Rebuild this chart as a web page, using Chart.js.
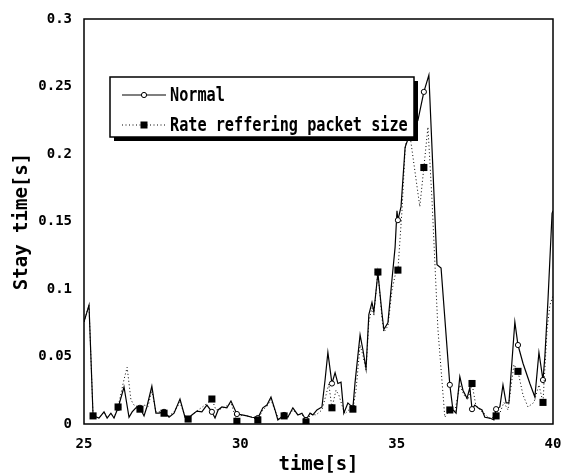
<!DOCTYPE html>
<html>
<head>
<meta charset="utf-8">
<script src="https://cdn.jsdelivr.net/npm/chart.js@4/dist/chart.umd.min.js"></script>
<style>
  html, body { margin: 0; padding: 0; background: #fff; }
  #wrap { width: 561px; height: 475px; }
</style>
</head>
<body>
<div id="wrap"><canvas id="c" width="561" height="475"></canvas></div>
<script>
// Stay time of packets over the observed interval, [time (s), stay time (s)]
const normalPoints = [
  [25.00,0.0756],[25.16,0.088],[25.29,0.006],[25.48,0.0044],[25.64,0.009],[25.74,0.0044],
  [25.86,0.008],[25.96,0.0044],[26.09,0.012],[26.28,0.0274],[26.44,0.005],[26.54,0.009],
  [26.66,0.012],[26.79,0.012],[26.92,0.006],[27.01,0.0126],[27.17,0.028],[27.30,0.008],
  [27.40,0.008],[27.56,0.009],[27.72,0.005],[27.88,0.008],[28.07,0.0185],[28.23,0.005],
  [28.33,0.0037],[28.45,0.0067],[28.61,0.0096],[28.77,0.009],[28.93,0.014],[29.09,0.009],
  [29.19,0.0044],[29.29,0.0104],[29.41,0.0126],[29.57,0.012],[29.70,0.017],[29.89,0.0074],
  [30.05,0.0067],[30.21,0.006],[30.37,0.005],[30.56,0.0044],[30.72,0.012],[30.85,0.014],
  [30.98,0.020],[31.11,0.0104],[31.20,0.003],[31.40,0.0067],[31.52,0.005],[31.68,0.012],
  [31.84,0.0067],[31.97,0.008],[32.10,0.003],[32.23,0.008],[32.32,0.0067],[32.45,0.0104],
  [32.61,0.0126],[32.71,0.0326],[32.80,0.053],[32.93,0.030],[33.03,0.038],[33.12,0.030],
  [33.22,0.031],[33.31,0.008],[33.44,0.0156],[33.60,0.012],[33.67,0.031],[33.83,0.066],
  [33.92,0.055],[34.02,0.041],[34.11,0.081],[34.21,0.090],[34.27,0.083],[34.40,0.112],
  [34.53,0.082],[34.59,0.070],[34.72,0.075],[34.85,0.107],[34.95,0.131],[35.01,0.158],
  [35.04,0.151],[35.14,0.161],[35.27,0.205],[35.42,0.215],[35.68,0.225],[35.87,0.246],
  [36.03,0.2585],[36.29,0.118],[36.42,0.1156],[36.70,0.029],[36.80,0.0104],[36.90,0.008],
  [37.02,0.035],[37.12,0.025],[37.25,0.019],[37.34,0.027],[37.41,0.011],[37.50,0.014],
  [37.60,0.012],[37.73,0.0104],[37.82,0.005],[37.98,0.0044],[38.11,0.003],[38.18,0.011],
  [38.30,0.0126],[38.40,0.029],[38.50,0.0156],[38.59,0.0156],[38.78,0.0756],[38.88,0.0585],
  [39.04,0.045],[39.26,0.030],[39.42,0.020],[39.55,0.053],[39.68,0.0326],[39.74,0.050],
  [39.84,0.092],[39.97,0.156],[40.00,0.158]
];

const ratePoints = [
  [25.00,0.0756],[25.16,0.088],[25.29,0.006],[25.48,0.0044],[25.64,0.009],[25.74,0.0044],
  [25.86,0.008],[25.96,0.0044],[26.09,0.0126],[26.28,0.033],[26.38,0.042],[26.50,0.018],
  [26.60,0.014],[26.79,0.011],[26.92,0.014],[27.05,0.013],[27.17,0.025],[27.30,0.009],
  [27.43,0.009],[27.56,0.008],[27.72,0.006],[27.88,0.009],[28.07,0.016],[28.23,0.006],
  [28.33,0.0037],[28.49,0.0074],[28.65,0.0104],[28.81,0.013],[28.97,0.016],[29.09,0.0185],
  [29.22,0.0104],[29.35,0.011],[29.51,0.0126],[29.70,0.0156],[29.89,0.002],[30.05,0.0067],
  [30.21,0.006],[30.37,0.005],[30.56,0.003],[30.72,0.0104],[30.85,0.013],[30.98,0.018],
  [31.11,0.0096],[31.24,0.0037],[31.40,0.006],[31.52,0.005],[31.68,0.0104],[31.84,0.0067],
  [31.97,0.0074],[32.10,0.0015],[32.26,0.0074],[32.42,0.0067],[32.61,0.0104],[32.74,0.0215],
  [32.83,0.0296],[32.93,0.012],[33.06,0.025],[33.15,0.0215],[33.25,0.014],[33.34,0.0074],
  [33.47,0.0104],[33.60,0.011],[33.70,0.025],[33.83,0.0585],[33.92,0.051],[34.02,0.040],
  [34.11,0.0756],[34.21,0.086],[34.27,0.081],[34.40,0.1126],[34.53,0.0785],[34.59,0.068],
  [34.72,0.0726],[34.85,0.099],[34.95,0.110],[35.04,0.114],[35.17,0.158],[35.27,0.203],
  [35.36,0.225],[35.74,0.161],[35.87,0.19],[36.00,0.22],[36.13,0.166],[36.32,0.070],
  [36.54,0.005],[36.70,0.0104],[36.86,0.009],[37.02,0.029],[37.15,0.0215],[37.28,0.018],
  [37.41,0.030],[37.53,0.014],[37.66,0.0104],[37.82,0.0074],[37.98,0.0037],[38.18,0.006],
  [38.30,0.008],[38.43,0.016],[38.56,0.0104],[38.75,0.044],[38.88,0.039],[39.04,0.0215],
  [39.20,0.0126],[39.39,0.016],[39.55,0.029],[39.68,0.016],[39.81,0.070],[39.90,0.088],
  [40.00,0.095]
];

// Sample times that carry a marker on both curves
const markerTimes = [25.29,26.09,26.79,27.56,28.33,29.09,29.89,30.56,31.40,32.10,
                     32.93,33.60,34.40,35.04,35.87,36.70,37.41,38.18,38.88,39.68];

const seriesLabels = ['Normal', 'Rate reffering packet size'];
const xTickLabels = ['25', '30', '35', '40'];
const yTickLabels = ['0', '0.05', '0.1', '0.15', '0.2', '0.25', '0.3'];
const xTitle = 'time[s]';
const yTitle = 'Stay time[s]';

const MONO = '"DejaVu Sans Mono", "Liberation Mono", monospace';

const toXY = pts => pts.map(p => ({ x: p[0], y: p[1] }));
const isMarked = t => markerTimes.some(m => Math.abs(m - t) < 0.005);
const markRadius = r => ctx => {
  const raw = ctx.raw;
  return raw && isMarked(raw.x) ? r : 0;
};

// Box drawn around the plotting area
const framePlugin = {
  id: 'frame',
  afterDatasetsDraw(chart) {
    const { ctx, chartArea: a } = chart;
    ctx.save();
    ctx.strokeStyle = '#000';
    ctx.lineWidth = 1.5;
    ctx.strokeRect(a.left, a.top, a.right - a.left, a.bottom - a.top);
    ctx.restore();
  }
};

// Framed legend with a drop shadow, placed inside the plot
const boxLegendPlugin = {
  id: 'boxLegend',
  afterDraw(chart) {
    const { ctx } = chart;
    const bx = 110, by = 77, bw = 304, bh = 60, sh = 4;
    ctx.save();
    ctx.fillStyle = '#000';
    ctx.fillRect(bx + sh, by + sh, bw, bh);
    ctx.fillStyle = '#fff';
    ctx.fillRect(bx, by, bw, bh);
    ctx.strokeStyle = '#000';
    ctx.lineWidth = 1.5;
    ctx.strokeRect(bx, by, bw, bh);

    const rows = [by + 18, by + 48];
    const x0 = bx + 12, x1 = bx + 56, xm = (x0 + x1) / 2;
    chart.data.datasets.forEach((ds, i) => {
      const y = rows[i];
      ctx.strokeStyle = '#000';
      ctx.lineWidth = ds.borderWidth;
      ctx.setLineDash(ds.borderDash || []);
      ctx.beginPath();
      ctx.moveTo(x0, y);
      ctx.lineTo(x1, y);
      ctx.stroke();
      ctx.setLineDash([]);
      ctx.fillStyle = ds.pointBackgroundColor;
      ctx.strokeStyle = ds.pointBorderColor;
      ctx.lineWidth = ds.pointBorderWidth;
      ctx.beginPath();
      if (ds.pointStyle === 'circle') {
        ctx.arc(xm, y, ds.legendRadius, 0, Math.PI * 2);
        ctx.fill();
        ctx.stroke();
      } else {
        const s = ds.legendRadius;
        ctx.fillRect(xm - s, y - s, 2 * s, 2 * s);
      }
      // taller, narrow lettering for the legend entries
      ctx.save();
      ctx.translate(x1 + 4, y + 1);
      ctx.scale(1, 1.25);
      ctx.fillStyle = '#000';
      ctx.font = 'bold 15.2px ' + MONO;
      ctx.textBaseline = 'middle';
      ctx.textAlign = 'left';
      ctx.fillText(ds.label, 0, 0);
      ctx.restore();
    });
    ctx.restore();
  }
};

new Chart(document.getElementById('c'), {
  type: 'line',
  data: {
    datasets: [
      {
        label: seriesLabels[0],
        data: toXY(normalPoints),
        borderColor: '#000',
        borderWidth: 1.2,
        tension: 0,
        pointStyle: 'circle',
        pointRadius: markRadius(2.6),
        pointHoverRadius: 0,
        pointBackgroundColor: '#fff',
        pointBorderColor: '#000',
        pointBorderWidth: 1,
        legendRadius: 2.6,
        order: 1
      },
      {
        label: seriesLabels[1],
        data: toXY(ratePoints),
        borderColor: '#000',
        borderWidth: 1,
        borderDash: [1, 2.5],
        tension: 0,
        pointStyle: 'rect',
        pointRadius: markRadius(5),
        pointHoverRadius: 0,
        pointBackgroundColor: '#000',
        pointBorderColor: '#000',
        pointBorderWidth: 0,
        legendRadius: 3.5,
        order: 0
      }
    ]
  },
  options: {
    responsive: false,
    animation: false,
    devicePixelRatio: 1,
    events: [],
    layout: { padding: { top: 19, right: 8, left: 0, bottom: 0 } },
    plugins: { legend: { display: false }, tooltip: { enabled: false } },
    scales: {
      x: {
        type: 'linear',
        min: 25,
        max: 40,
        afterFit: s => { s.height = 51; s.paddingLeft = 0; s.paddingRight = 0; },
        afterBuildTicks: s => { s.ticks = xTickLabels.map(v => ({ value: Number(v) })); },
        grid: { display: false, drawTicks: false },
        border: { display: false },
        ticks: {
          padding: 12,
          color: '#000',
          font: { family: MONO, size: 14, weight: 'bold' },
          maxRotation: 0,
          callback: (v, i) => xTickLabels[i]
        },
        title: {
          display: true,
          text: xTitle,
          color: '#000',
          padding: 0,
          font: { family: MONO, size: 19, weight: 'bold', lineHeight: 1 }
        }
      },
      y: {
        type: 'linear',
        min: 0,
        max: 0.3,
        afterFit: s => { s.width = 84; s.paddingTop = 0; s.paddingBottom = 0; },
        afterBuildTicks: s => { s.ticks = yTickLabels.map(v => ({ value: Number(v) })); },
        grid: { display: false, drawTicks: false },
        border: { display: false },
        ticks: {
          padding: 12,
          color: '#000',
          font: { family: MONO, size: 14, weight: 'bold' },
          callback: (v, i) => yTickLabels[i]
        },
        title: {
          display: true,
          text: yTitle,
          color: '#000',
          padding: 11,
          font: { family: MONO, size: 19, weight: 'bold' }
        }
      }
    }
  },
  plugins: [framePlugin, boxLegendPlugin]
});
</script>
</body>
</html>
